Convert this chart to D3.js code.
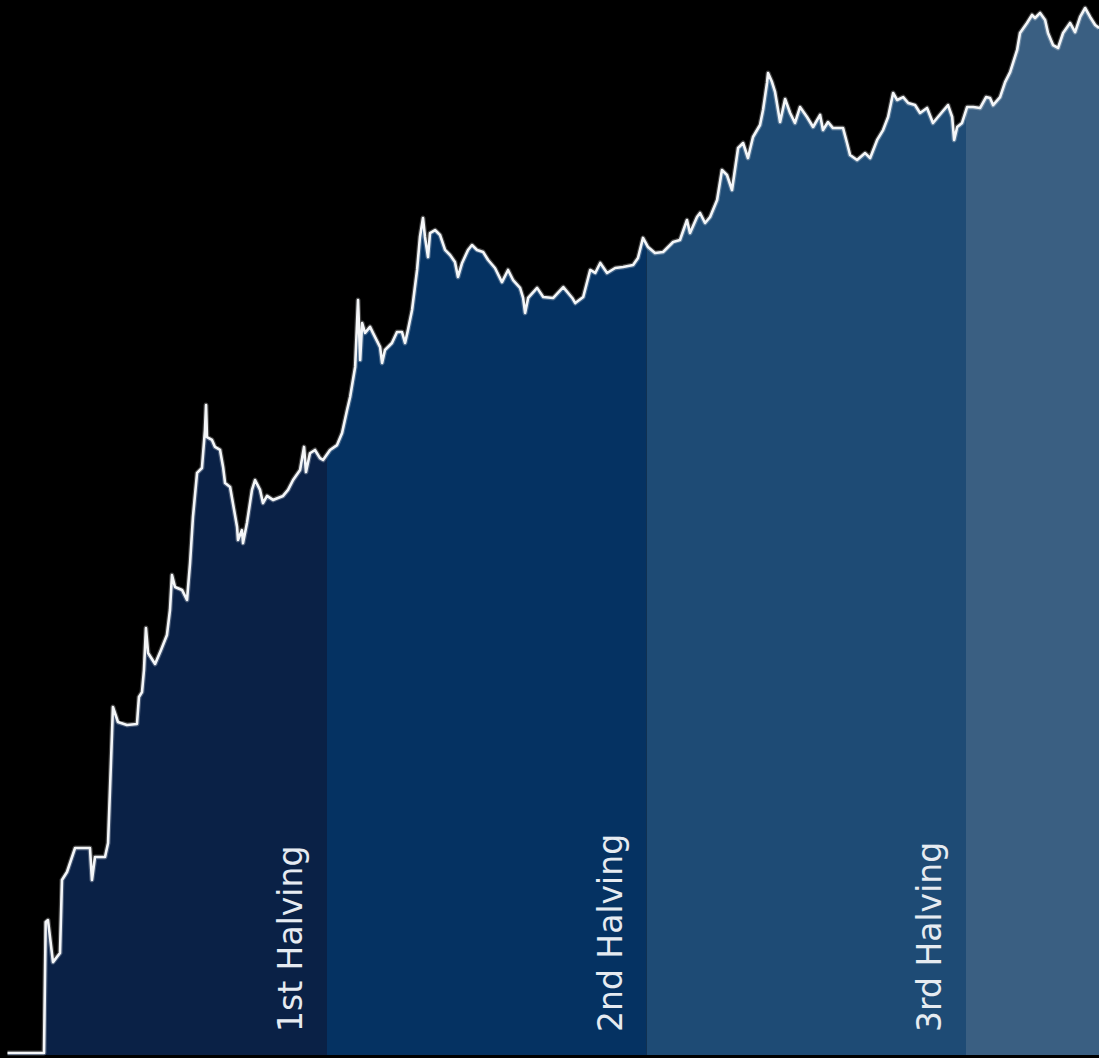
<!DOCTYPE html>
<html>
<head>
<meta charset="utf-8">
<script src="https://cdn.jsdelivr.net/npm/d3@7"></script>
<style>
  body { margin: 0; background: #000; }
  svg { display: block; }
</style>
</head>
<body>
<div id="chart"></div>
<script>
const width = 1099
const height = 1058
const bottom = 1055

// block height (thousands of blocks)
const blockK = [0, 24, 25.1, 26.6, 29.9, 34.5, 35.8, 39.1, 44.4, 54.2, 55.5, 57.5, 64.1, 66.1, 68.7, 69.3, 72.6, 78.5, 85.1, 86.4, 88.4, 89.7, 91.0, 92.4, 97.0, 100.9, 104.8, 106.8, 108.1, 110.1, 114.7, 118.0, 120.0, 121.9, 124.6, 127.8, 129.8, 130.5, 131.1, 134.4, 136.4, 139.7, 141.7, 143.0, 146.3, 150.9, 151.5, 154.1, 154.8, 157.4, 160.7, 162.7, 166.0, 167.9, 170.6, 174.5, 181.1, 184.4, 187.7, 192.3, 194.9, 196.2, 198.8, 202.1, 205.4, 207.4, 212.0, 216.6, 219.9, 223.2, 225.2, 228.5, 230.4, 231.8, 233.1, 235.0, 238.3, 240.2, 244.9, 246.2, 248.1, 252.7, 256.0, 259.3, 261.3, 263.2, 265.9, 269.2, 271.1, 273.1, 274.4, 276.4, 277.7, 281.0, 284.3, 287.6, 290.9, 294.1, 296.1, 298.8, 302.7, 305.3, 308.6, 312.6, 315.9, 320.4, 325.0, 329.0, 332.3, 336.9, 338.9, 340.2, 342.2, 348.1, 352.1, 358.7, 365.3, 371.2, 373.2, 378.4, 383.0, 386.3, 389.6, 394.1, 399.4, 404.6, 411.2, 414.4, 417.7, 421.0, 425.6, 430.9, 437.5, 442.0, 446.6, 448.6, 453.2, 455.2, 458.5, 461.8, 466.4, 469.6, 472.9, 476.2, 480.2, 483.5, 486.7, 490.0, 494.6, 496.6, 499.2, 499.9, 502.5, 504.5, 507.8, 511.1, 514.4, 517.6, 520.9, 525.5, 529.5, 534.1, 536.0, 539.3, 542.6, 549.2, 551.8, 553.8, 558.4, 563.7, 567.0, 571.6, 575.5, 578.8, 582.1, 584.7, 588.7, 592.0, 596.5, 599.8, 604.4, 608.3, 614.3, 618.2, 620.9, 622.2, 624.2, 627.4, 630.7, 634.7, 639.3, 643.2, 645.8, 647.8, 652.4, 655.7, 659.0, 663.6, 665.5, 670.1, 673.4, 675.4, 678.7, 682.0, 683.9, 687.2, 690.5, 693.8, 698.4, 701.7, 705.0, 708.3, 711.6, 714.9, 717.5]

// price in USD (log scale)
const price = [0.0001, 0.0001, 0.00129, 0.00134, 0.00059, 0.000705, 0.00293, 0.00343, 0.00548, 0.00548, 0.00293, 0.00459, 0.00459, 0.00604, 0.0518, 0.0859, 0.0641, 0.0605, 0.0617, 0.1045, 0.115, 0.177, 0.402, 0.247, 0.199, 0.262, 0.351, 0.571, 1.13, 0.895, 0.845, 0.695, 1.43, 3.52, 8.30, 9.14, 19.2, 31.3, 16.7, 15.8, 13.8, 13.0, 9.33, 6.82, 6.31, 2.89, 2.24, 2.72, 2.11, 3.13, 5.96, 7.23, 5.96, 4.61, 5.30, 4.90, 5.30, 5.96, 7.23, 8.79, 13.8, 8.45, 12.2, 13.0, 11.1, 10.7, 13.0, 14.3, 18.1, 28.4, 36.6, 65.8, 243, 75.3, 155, 128, 144, 128, 97.0, 71.1, 91.6, 105, 130, 130, 105, 135, 200, 437, 832, 1205, 832, 562, 899, 953, 865, 646, 585, 511, 381, 501, 646, 711, 646, 621, 531, 454, 345, 437, 359, 308, 253, 189, 253, 308, 258, 253, 313, 253, 229, 258, 437, 412, 501, 412, 454, 463, 482, 552, 817, 684, 608, 621, 755, 785, 1159, 899, 1230, 1330, 1094, 1230, 1714, 3076, 2793, 2084, 4732, 5212, 3890, 5861, 7413, 9931, 16830, 20460, 17140, 14130, 7852, 12300, 9376, 7709, 10520, 8670, 7129, 9016, 6714, 7852, 6982, 6982, 5212, 4121, 3741, 4285, 3890, 5534, 6714, 8670, 13840, 12080, 12790, 11380, 10940, 9376, 10330, 7709, 9550, 10940, 8670, 5534, 7129, 7709, 10520, 10520, 10330, 12790, 12560, 10940, 12790, 17140, 20840, 32060, 44670, 54330, 63530, 59840, 66070, 57540, 44670, 35320, 33340, 44670, 54330, 45500, 61090, 72780, 61090, 52240, 49200]

// halving epochs (thousands of blocks)
const epochStart = [0, 210, 420, 630]
const epochEnd = [210, 420, 630, 840]
const epochColors = ["#0a2146", "#053262", "#1e4b75", "#3a5f82"]
const halvingLabels = ["1st Halving", "2nd Halving", "3rd Halving"]
const halvingBlocks = [210, 420, 630]

const data = d3.zip(blockK, price).map(([b, p]) => ({ b: b, p: p }))

const x = d3.scaleLinear().domain([0, 630]).range([7.5, 966])
const y = d3.scaleLog().domain([1e-4, 7e4]).range([1053, 10])

let svg = d3.select("#chart")
    .append("svg")
    .attr("width", width)
    .attr("height", height)
    .style("background", "#000")

const area = d3.area()
    .x(d => x(d.b))
    .y0(bottom)
    .y1(d => y(d.p))

const line = d3.line()
    .x(d => x(d.b))
    .y(d => y(d.p))

svg.append("clipPath")
    .attr("id", "underLine")
    .append("path")
    .attr("d", area(data))

// coloured epochs, only below the price line
svg.append("g")
    .attr("clip-path", "url(#underLine)")
    .selectAll("rect")
    .data(epochStart)
    .join("rect")
    .attr("x", d => x(d))
    .attr("y", 0)
    .attr("width", (d, i) => x(epochEnd[i]) - x(d))
    .attr("height", bottom)
    .attr("fill", (d, i) => epochColors[i])

// soft glow under the line, like the video frame
svg.append("path")
    .datum(data)
    .attr("d", line)
    .attr("fill", "none")
    .attr("stroke", "#ffffff")
    .attr("stroke-opacity", 0.25)
    .attr("stroke-width", 5)
    .attr("stroke-linejoin", "round")

svg.append("path")
    .datum(data)
    .attr("d", line)
    .attr("fill", "none")
    .attr("stroke", "#f4f6f8")
    .attr("stroke-width", 2.6)
    .attr("stroke-linejoin", "round")

svg.selectAll(".halving")
    .data(halvingBlocks)
    .join("text")
    .attr("class", "halving")
    .attr("transform", d => `translate(${x(d) - 25},1032) rotate(-90)`)
    .attr("fill", "#e6ebf1")
    .style("font-family", "DejaVu Sans, sans-serif")
    .style("font-size", "33px")
    .text((d, i) => halvingLabels[i])
</script>
</body>
</html>
